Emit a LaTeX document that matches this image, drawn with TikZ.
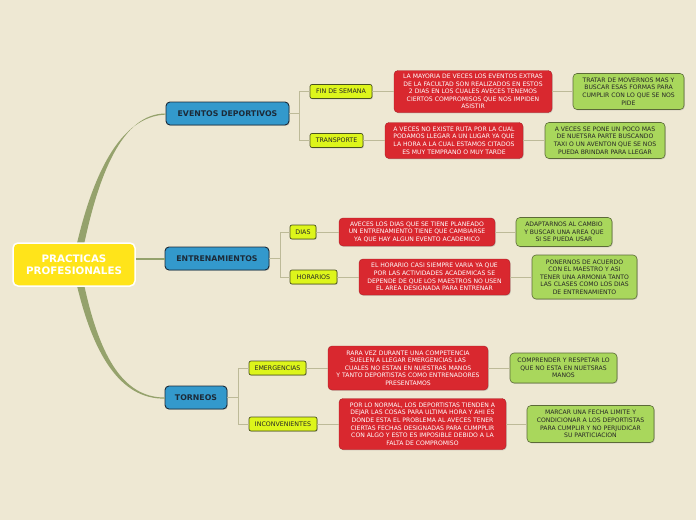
\documentclass[tikz,border=0pt]{standalone}
\usepackage{fontspec}
\setmainfont{DejaVu Sans}
\usetikzlibrary{shadows}
\definecolor{bg}{HTML}{EEE8D3}
\definecolor{curvec}{HTML}{95A26C}
\definecolor{elbowc}{HTML}{BDBA98}
\definecolor{myred}{HTML}{D9282F}
\definecolor{myredd}{HTML}{A82026}
\definecolor{mygreen}{HTML}{A9D75C}
\definecolor{mygreend}{HTML}{5C6A38}
\definecolor{subc}{HTML}{DDF51B}
\definecolor{subd}{HTML}{4A5220}
\definecolor{blue}{HTML}{3399CC}
\definecolor{blued}{HTML}{1C2A38}
\definecolor{rootc}{HTML}{FFE41A}
\begin{document}
\begin{tikzpicture}[x=1pt,y=-1pt,
  shad/.style={drop shadow={opacity=0.3,shadow xshift=0.8pt,shadow yshift=-0.9pt}},
  box/.style={rounded corners=4pt, align=center, inner sep=0pt, shad,
    font=\fontsize{6.1}{7.6}\selectfont},
  redbox/.style={box, fill=myred, draw=myredd, line width=0.4pt, text=white},
  greenbox/.style={box, fill=mygreen, draw=mygreend, line width=0.6pt, text=black!85},
  subbox/.style={box, rounded corners=2pt, fill=subc, draw=subd, line width=0.7pt, text=black!85,
    minimum height=14pt, font=\fontsize{6.3}{7.6}\selectfont},
  topic/.style={box, rounded corners=4pt, fill=blue, draw=blued, line width=0.9pt, text=blued,
    font=\fontsize{7.8}{9}\selectfont\bfseries, minimum height=23pt},
  rootbox/.style={rounded corners=5pt, fill=rootc, draw=white, line width=1.5pt, text=white,
    align=center, inner sep=0pt, font=\fontsize{10.3}{12}\selectfont\bfseries,
    minimum width=122pt, minimum height=43pt},
  elbow/.style={draw=elbowc, line width=0.9pt},
  branch/.style={fill=curvec}
]
\fill[bg] (0,0) rectangle (696,520);
\useasboundingbox (0,0) rectangle (696,520);

% main topics
\node[topic, minimum width=123pt] (ev) at (227.5,113.5) {EVENTOS DEPORTIVOS};
\node[topic, minimum width=104pt] (en) at (217,258.5) {ENTRENAMIENTOS};
\node[topic, minimum width=62pt] (tor) at (196,397.5) {TORNEOS};

% tapered connectors from root
\fill[branch] (82.5,252) .. controls (98,175) and (122,113.5) .. (ev.west)
  -- (166,114.6) .. controls (120,116) and (92,175) .. (75,252) -- cycle;
\fill[branch] (82.5,277) .. controls (98,354) and (122,397.5) .. (tor.west)
  -- (165,398.6) .. controls (120,399.5) and (92,354) .. (75,277) -- cycle;

% root
\node[rootbox] (root) at (74,264.5) {PRACTICAS\\PROFESIONALES};
\draw[curvec, line width=2pt] (root.east |- en.west) -- (en.west);

% subtopics
\node[subbox, minimum width=62pt] (fin) at (341,91.5) {FIN DE SEMANA};
\node[subbox, minimum width=53pt] (tra) at (336.5,140.5) {TRANSPORTE};
\node[subbox, minimum width=26pt] (dias) at (303,232) {DIAS};
\node[subbox, minimum width=47pt] (hor) at (313.5,277) {HORARIOS};
\node[subbox, minimum width=57pt] (em) at (277.5,368) {EMERGENCIAS};
\node[subbox, minimum width=68pt] (inc) at (283,424) {INCONVENIENTES};

% red boxes
\node[redbox, minimum width=158pt, minimum height=42pt] (r1) at (473,91.5)
  {LA MAYORIA DE VECES LOS EVENTOS EXTRAS\\DE LA FACULTAD SON REALIZADOS EN ESTOS\\2 DIAS EN LOS CUALES AVECES TENEMOS\\CIERTOS COMPROMISOS QUE NOS IMPIDEN\\ASISTIR};
\node[redbox, minimum width=138pt, minimum height=36pt] (r2) at (454,140.5)
  {A VECES NO EXISTE RUTA POR LA CUAL\\PODAMOS LLEGAR A UN LUGAR YA QUE\\LA HORA A LA CUAL ESTAMOS CITADOS\\ES MUY TEMPRANO O MUY TARDE};
\node[redbox, minimum width=156pt, minimum height=28pt] (r3) at (417,232)
  {AVECES LOS DIAS QUE SE TIENE PLANEADO\\UN ENTRENAMIENTO TIENE QUE CAMBIARSE\\YA QUE HAY ALGUN EVENTO ACADEMICO};
\node[redbox, minimum width=151pt, minimum height=36pt] (r4) at (434.5,277)
  {EL HORARIO CASI SIEMPRE VARIA YA QUE\\POR LAS ACTIVIDADES ACADEMICAS SE\\DEPENDE DE QUE LOS MAESTROS NO USEN\\EL AREA DESIGNADA PARA ENTRENAR};
\node[redbox, minimum width=160pt, minimum height=44pt] (r5) at (408,368)
  {RARA VEZ DURANTE UNA COMPETENCIA\\SUELEN A LLEGAR EMERGENCIAS LAS\\CUALES NO ESTAN EN NUESTRAS MANOS\\Y TANTO DEPORTISTAS COMO ENTRENADORES\\PRESENTAMOS};
\node[redbox, minimum width=167pt, minimum height=51pt] (r6) at (422.5,424)
  {POR LO NORMAL, LOS DEPORTISTAS TIENDEN A\\DEJAR LAS COSAS PARA ULTIMA HORA Y AHI ES\\DONDE ESTA EL PROBLEMA AL AVECES TENER\\CIERTAS FECHAS DESIGNADAS PARA CUMPPLIR\\CON ALGO Y ESTO ES IMPOSIBLE DEBIDO A LA\\FALTA DE COMPROMISO};

% green boxes
\node[greenbox, minimum width=111pt, minimum height=36pt] (g1) at (628.5,91.5)
  {TRATAR DE MOVERNOS MAS Y\\BUSCAR ESAS FORMAS PARA\\CUMPLIR CON LO QUE SE NOS\\PIDE};
\node[greenbox, minimum width=120pt, minimum height=36pt] (g2) at (605,140.5)
  {A VECES SE PONE UN POCO MAS\\DE NUETSRA PARTE BUSCANDO\\TAXI O UN AVENTON QUE SE NOS\\PUEDA BRINDAR PARA LLEGAR};
\node[greenbox, minimum width=96pt, minimum height=29pt] (g3) at (564,232)
  {ADAPTARNOS AL CAMBIO\\Y BUSCAR UNA AREA QUE\\SI SE PUEDA USAR};
\node[greenbox, minimum width=105pt, minimum height=44pt] (g4) at (584.5,277)
  {PONERNOS DE ACUERDO\\CON EL MAESTRO Y ASI\\TENER UNA ARMONIA TANTO\\LAS CLASES COMO LOS DIAS\\DE ENTRENAMIENTO};
\node[greenbox, minimum width=107pt, minimum height=30pt] (g5) at (563.5,368)
  {COMPRENDER Y RESPETAR LO\\QUE NO ESTA EN NUETSRAS\\MANOS};
\node[greenbox, minimum width=127pt, minimum height=37pt] (g6) at (590.5,424)
  {MARCAR UNA FECHA LIMITE Y\\CONDICIONAR A LOS DEPORTISTAS\\PARA CUMPLIR Y NO PERJUDICAR\\SU PARTICIACION};

% elbow connectors
\draw[elbow] (ev.east) -- ++(10,0) |- (fin.west);
\draw[elbow] (ev.east) -- ++(10,0) |- (tra.west);
\draw[elbow] (en.east) -- ++(11,0) |- (dias.west);
\draw[elbow] (en.east) -- ++(11,0) |- (hor.west);
\draw[elbow] (tor.east) -- ++(11,0) |- (em.west);
\draw[elbow] (tor.east) -- ++(11,0) |- (inc.west);
\draw[elbow] (fin.east) -- (r1.west);
\draw[elbow] (r1.east) -- (g1.west);
\draw[elbow] (tra.east) -- (r2.west);
\draw[elbow] (r2.east) -- (g2.west);
\draw[elbow] (dias.east) -- (r3.west);
\draw[elbow] (r3.east) -- (g3.west);
\draw[elbow] (hor.east) -- (r4.west);
\draw[elbow] (r4.east) -- (g4.west);
\draw[elbow] (em.east) -- (r5.west);
\draw[elbow] (r5.east) -- (g5.west);
\draw[elbow] (inc.east) -- (r6.west);
\draw[elbow] (r6.east) -- (g6.west);
\end{tikzpicture}
\end{document}
